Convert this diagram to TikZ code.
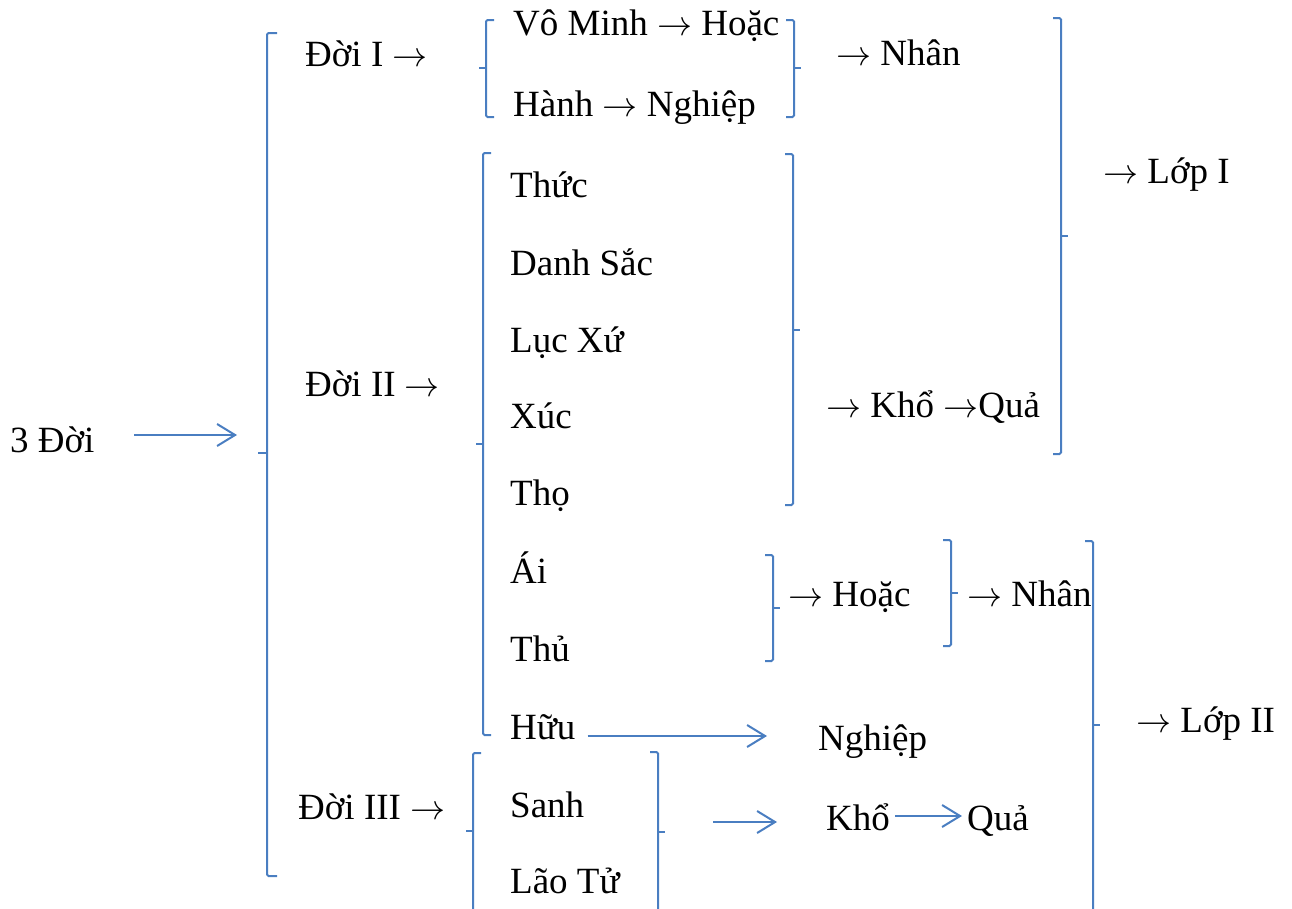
\documentclass[tikz,border=0pt]{standalone}
\usepackage{fontspec}
\setmainfont{Liberation Serif}
\usetikzlibrary{arrows.meta}
\definecolor{brkc}{RGB}{74,126,193}
\newcommand{\rarr}{\resizebox{35pt}{!}{\normalsize$\rightarrow$}}
\begin{document}
\begin{tikzpicture}[x=1pt,y=-1pt,
  every node/.style={font=\fontsize{37}{44}\selectfont, inner sep=0pt, anchor=base west},
  brk/.style={draw=brkc, line width=2pt, rounded corners=1.5pt},
  barrow/.style={draw=brkc, line width=2pt, -{Straight Barb[length=18pt,width=22pt,line width=2pt]}}]
\useasboundingbox (0,0) rectangle (1292,908);
% texts
\node (tri) at (10,452) {3 Đời};
\node (d1) at (305,66) {Đời I \rarr};
\node (vm) at (513,35) {Vô Minh \rarr\ Hoặc};
\node (hn) at (513,116) {Hành \rarr\ Nghiệp};
\node (nh1) at (836,65) {\rarr\ Nhân};
\node (lop1) at (1103,183) {\rarr\ Lớp I};
\node (d2) at (305,396) {Đời II \rarr};
\node (thuc) at (510,197) {Thức};
\node (ds) at (510,275) {Danh Sắc};
\node (lx) at (510,352) {Lục Xứ};
\node (xuc) at (510,428) {Xúc};
\node (tho) at (510,505) {Thọ};
\node (ai) at (510,583) {Ái};
\node (thu) at (510,661) {Thủ};
\node (huu) at (510,739) {Hữu};
\node (khq) at (826,417) {\rarr\ Khổ \rarr Quả};
\node (hoac2) at (788,606) {\rarr\ Hoặc};
\node (nh2) at (967,606) {\rarr\ Nhân};
\node (lop2) at (1136,732) {\rarr\ Lớp II};
\node (ngh) at (818,750) {Nghiệp};
\node (d3) at (298,819) {Đời III \rarr};
\node (sanh) at (510,817) {Sanh};
\node (lt) at (510,893) {Lão Tử};
\node (kho) at (826,830) {Khổ};
\node (qua) at (967,830) {Quả};
% left brackets
\draw[brk] (277,33) -- (267,33) -- (267,876) -- (277,876);
\draw[brk] (267,453) -- (258,453);
\draw[brk] (494,20) -- (486,20) -- (486,117) -- (494,117);
\draw[brk] (486,68) -- (479,68);
\draw[brk] (491,153) -- (483,153) -- (483,735) -- (491,735);
\draw[brk] (483,444) -- (476,444);
\draw[brk] (481,753) -- (473,753) -- (473,915);
\draw[brk] (473,831) -- (466,831);
% right brackets
\draw[brk] (786,20) -- (794,20) -- (794,117) -- (786,117);
\draw[brk] (794,68) -- (801,68);
\draw[brk] (785,154) -- (793,154) -- (793,505) -- (785,505);
\draw[brk] (793,330) -- (800,330);
\draw[brk] (1053,18) -- (1061,18) -- (1061,454) -- (1053,454);
\draw[brk] (1061,236) -- (1068,236);
\draw[brk] (765,555) -- (773,555) -- (773,661) -- (765,661);
\draw[brk] (773,608) -- (780,608);
\draw[brk] (943,540) -- (951,540) -- (951,646) -- (943,646);
\draw[brk] (951,593) -- (958,593);
\draw[brk] (1085,541) -- (1093,541) -- (1093,915);
\draw[brk] (1093,725) -- (1100,725);
\draw[brk] (650,752) -- (658,752) -- (658,915);
\draw[brk] (658,832) -- (665,832);
% blue arrows
\coordinate (a0s) at (134,435);
\coordinate (a0e) at (237,435);
\draw[barrow] (a0s) -- (a0e);
\coordinate (a1e) at (767,736);
\draw[barrow] ([shift={(12,-3)}]huu.base east) -- (a1e);
\coordinate (a2s) at (713,822);
\coordinate (a2e) at (777,822);
\draw[barrow] (a2s) -- (a2e);
\draw[barrow] ([shift={(5,-14)}]kho.base east) -- ([shift={(-5,-14)}]qua.base west);
\end{tikzpicture}
\end{document}
